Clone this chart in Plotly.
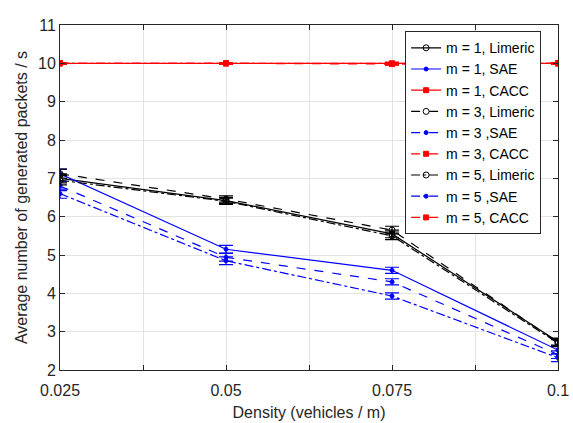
import plotly.graph_objects as go

density = [0.025, 0.05, 0.075, 0.1]

lim_m1 = [7.00, 6.42, 5.55, 2.74]
lim_m3 = [7.12, 6.46, 5.65, 2.72]
lim_m5 = [6.95, 6.40, 5.50, 2.70]
sae_m1 = [7.12, 5.15, 4.60, 2.52]
sae_m3 = [6.80, 4.94, 4.30, 2.40]
sae_m5 = [6.60, 4.85, 3.93, 2.32]
cacc_m1 = [10.0, 10.0, 10.0, 10.0]
cacc_m3 = [10.0, 10.0, 9.98, 10.0]
cacc_m5 = [10.0, 10.0, 9.99, 10.0]

err_lim = [0.12, 0.08, 0.1, 0.09]
err_sae = [0.12, 0.1, 0.08, 0.1]
err_cacc = [0.02, 0.02, 0.03, 0.02]

x_ticks = [0.025, 0.0375, 0.05, 0.0625, 0.075, 0.0875, 0.1]
x_labels = ["0.025", "", "0.05", "", "0.075", "", "0.1"]
y_ticks = [2, 3, 4, 5, 6, 7, 8, 9, 10, 11]

series = [
    ("m = 1, Limeric", lim_m1, err_lim, "black", "solid", "circle-open", 6),
    ("m = 1, SAE", sae_m1, err_sae, "blue", "solid", "circle", 4),
    ("m = 1, CACC", cacc_m1, err_cacc, "red", "solid", "square", 5),
    ("m = 3, Limeric", lim_m3, err_lim, "black", "dash", "circle-open", 6),
    ("m = 3 ,SAE", sae_m3, err_sae, "blue", "dash", "circle", 4),
    ("m = 3, CACC", cacc_m3, err_cacc, "red", "dash", "square", 5),
    ("m = 5, Limeric", lim_m5, err_lim, "black", "dashdot", "circle-open", 6),
    ("m = 5 ,SAE", sae_m5, err_sae, "blue", "dashdot", "circle", 4),
    ("m = 5, CACC", cacc_m5, err_cacc, "red", "dashdot", "square", 5),
]

fig = go.Figure()
for name, y, e, col, dash, sym, ms in series:
    fig.add_trace(go.Scatter(
        x=density, y=y, name=name, mode="lines+markers",
        line=dict(color=col, width=1.2, dash=dash),
        marker=dict(color=col, symbol=sym, size=ms, line=dict(color=col, width=1)),
        error_y=dict(type="data", array=e, visible=True, color=col, thickness=1.2, width=7),
    ))

FONT = "Liberation Sans, Arial, sans-serif"
axis_common = dict(
    showline=True, linecolor="#262626", linewidth=1, mirror="ticks",
    ticks="inside", ticklen=5, tickcolor="#262626",
    showgrid=True, gridcolor="#e3e3e3", gridwidth=1, zeroline=False,
    tickfont=dict(family=FONT, size=16, color="#262626"),
    title_font=dict(family=FONT, size=16, color="#262626"),
    automargin=False,
)

fig.update_layout(
    width=573, height=423,
    margin=dict(l=60, r=15, t=25, b=53),
    paper_bgcolor="white", plot_bgcolor="white",
    font=dict(family=FONT, color="#262626"),
    xaxis=dict(range=[0.025, 0.1], tickvals=x_ticks, ticktext=x_labels,
               ticklabelstandoff=6,
               title=dict(text="Density (vehicles / m)", standoff=8), **axis_common),
    yaxis=dict(range=[2, 11], tickvals=y_ticks,
               title=dict(text="Average number of generated packets / s", standoff=6), **axis_common),
    legend=dict(x=0.693, y=0.982, xanchor="left", yanchor="top",
                bgcolor="white", bordercolor="#262626", borderwidth=1,
                font=dict(family=FONT, size=14, color="black"), tracegroupgap=0, itemwidth=30),
    showlegend=True,
)

fig.write_html("out.html")
